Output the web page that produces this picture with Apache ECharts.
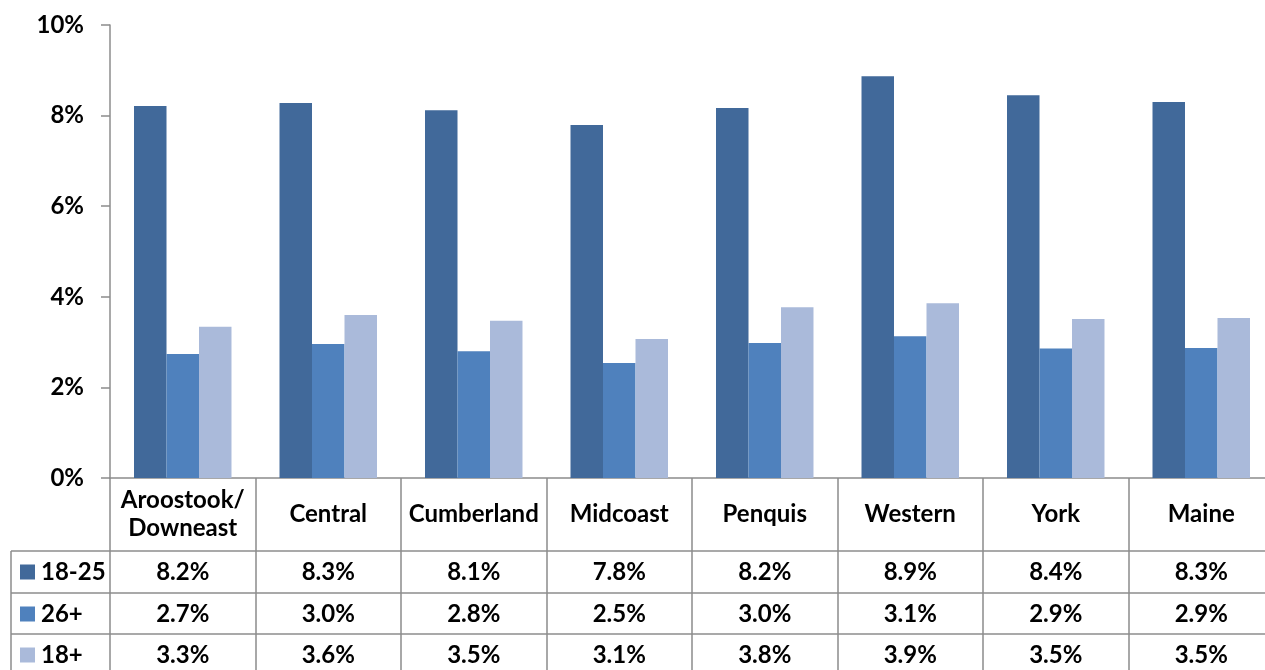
<!DOCTYPE html>
<html>
<head>
<meta charset="utf-8">
<script src="https://cdn.jsdelivr.net/npm/echarts@6/dist/echarts.min.js"></script>
<style>
  html, body { margin: 0; padding: 0; background: #fff; }
  #chart { width: 1265px; height: 670px; }
</style>
</head>
<body>
<div id="chart"></div>
<script>
// regions and values
var categories = ['Aroostook/\nDowneast', 'Central', 'Cumberland', 'Midcoast', 'Penquis', 'Western', 'York', 'Maine'];
var seriesNames = ['18-25', '26+', '18+'];
var age1825 = [8.21, 8.28, 8.12, 7.79, 8.17, 8.87, 8.45, 8.30];
var age26 = [2.74, 2.96, 2.80, 2.54, 2.98, 3.13, 2.86, 2.87];
var age18 = [3.34, 3.60, 3.47, 3.07, 3.77, 3.86, 3.51, 3.53];
var yTicks = [0, 2, 4, 6, 8, 10];

var colors = ['#41699a', '#4f81bd', '#aabada'];
var font = 'Lato, "Open Sans", sans-serif';
var lineColor = '#8c8c8c';

var myChart = echarts.init(document.getElementById('chart'), null, { renderer: 'canvas' });
var seriesData = [age1825, age26, age18];

var option = {
    animation: false,
    grid: { left: 110, top: 25, bottom: 192, width: 1164, outerBoundsMode: 'none', containLabel: false },
    xAxis: {
        type: 'category',
        data: categories,
        axisLine: { lineStyle: { color: lineColor, width: 1.5 } },
        axisTick: { show: true, length: 200, lineStyle: { color: lineColor, width: 1.5 } },
        axisLabel: {
            interval: 0,
            margin: 36,
            verticalAlign: 'middle',
            lineHeight: 28,
            color: '#000',
            fontFamily: font,
            fontWeight: 'bold',
            fontSize: 24
        }
    },
    yAxis: {
        type: 'value',
        min: yTicks[0],
        max: yTicks[yTicks.length - 1],
        interval: yTicks[1] - yTicks[0],
        axisLine: { show: true, lineStyle: { color: lineColor, width: 1.5 } },
        axisTick: { show: true, length: 9, lineStyle: { color: lineColor, width: 1.5 } },
        splitLine: { show: false },
        axisLabel: {
            margin: 26,
            formatter: '{value}%',
            color: '#000',
            fontFamily: font,
            fontWeight: 'bold',
            fontSize: 24
        }
    },
    series: seriesNames.map(function (name, i) {
        return {
            name: name,
            type: 'bar',
            data: seriesData[i],
            barGap: '0%',
            barCategoryGap: '33%',
            itemStyle: { color: colors[i] }
        };
    })
};
myChart.setOption(option);

// data table under the axis
function build_table() {
    var rowTop = [551, 593, 634];
    var rowH = 42;
    var els = [];
    rowTop.forEach(function (y) {
        els.push({ type: 'line', shape: { x1: 11, y1: y, x2: 1265, y2: y },
            style: { stroke: lineColor, lineWidth: 1.5 } });
    });
    els.push({ type: 'line', shape: { x1: 11, y1: 551, x2: 11, y2: 670 },
        style: { stroke: lineColor, lineWidth: 1.5 } });

    seriesNames.forEach(function (name, r) {
        var cy = rowTop[r] + rowH / 2;
        els.push({ type: 'rect', shape: { x: 20, y: cy - 7.5, width: 15, height: 15 },
            style: { fill: colors[r] } });
        els.push({ type: 'text', x: 41, y: cy,
            style: { text: name, fill: '#000', font: 'bold 24px ' + font,
                textAlign: 'left', textVerticalAlign: 'middle' } });
        seriesData[r].forEach(function (v, c) {
            var px = myChart.convertToPixel({ xAxisIndex: 0 }, c);
            els.push({ type: 'text', x: px, y: cy,
                style: { text: v.toFixed(1) + '%', fill: '#000', font: 'bold 24px ' + font,
                    textAlign: 'center', textVerticalAlign: 'middle' } });
        });
    });
    myChart.setOption({ graphic: els });
}
build_table();
</script>
</body>
</html>
